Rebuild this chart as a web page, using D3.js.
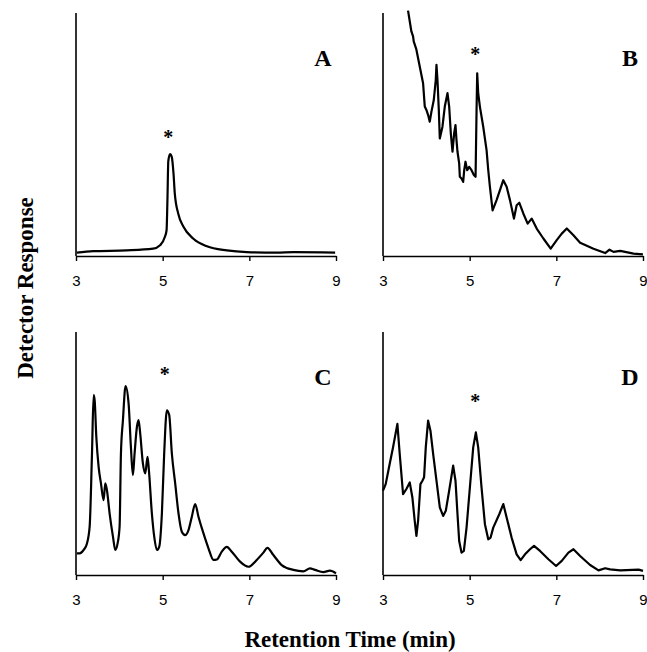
<!DOCTYPE html>
<html>
<head>
    <meta charset="utf-8">
    <style>
        body { margin: 0; background: #fff; }
    </style>
</head>
<body>
<script src="https://d3js.org/d3.v7.min.js"></script>
<script>
    // retention time (min) and detector response (relative, 0-100) for each panel
    var timeA = [3.02, 3.40, 4.17, 4.78, 4.94, 5.05, 5.09, 5.11, 5.13, 5.17, 5.21, 5.25, 5.28, 5.36, 5.48, 5.71, 6.02, 6.48, 6.94, 7.63, 8.02, 8.98];
    var respA = [1.4, 2.0, 2.3, 3.0, 4.4, 7.8, 10.6, 23, 39, 41.9, 40.8, 34, 25.7, 17.4, 12, 7.1, 4.0, 2.3, 1.6, 1.4, 1.6, 1.4];

    var timeB = [3.578, 3.655, 3.694, 3.709, 3.771, 3.848, 3.925, 3.964, 4.002, 4.041, 4.079, 4.118, 4.172, 4.218, 4.234, 4.257, 4.288, 4.311, 4.372, 4.426,
        4.488, 4.527, 4.565, 4.604, 4.642, 4.673, 4.696, 4.719, 4.758, 4.773, 4.812, 4.850, 4.874, 4.904, 4.943, 4.989, 5.043, 5.097, 5.136, 5.159,
        5.174, 5.197, 5.236, 5.313, 5.390, 5.429, 5.467, 5.529, 5.621, 5.699, 5.776, 5.853, 5.930, 6.022, 6.084, 6.146, 6.238, 6.338, 6.431, 6.547,
        6.701, 6.870, 7.009, 7.125, 7.241, 7.395, 7.549, 7.857, 8.127, 8.227, 8.320, 8.474, 8.783, 8.998];
    var respB = [101, 92.4, 90.4, 88.3, 84.9, 78, 71.1, 61.5, 60.1, 58, 55.3, 59.4, 64.2, 72.5, 78.7, 72.5, 60.1, 48.4, 53.2, 61.5,
        67, 61.5, 50.5, 42.9, 50.5, 53.9, 47.7, 42.9, 38.1, 32.6, 31.9, 30.5, 35.3, 38.8, 35.3, 36.7, 35.3, 33.3, 32.6, 60,
        75.2, 67, 61.5, 53.2, 43.6, 35.3, 28.5, 18.8, 23, 27.1, 31.2, 28.5, 23, 15.4, 20.9, 21.9, 17.5, 13.3, 15.4, 11.3,
        7.2, 3.0, 6.5, 9.2, 11.3, 8.5, 5.5, 3.0, 1.2, 2.6, 1.7, 2.1, 1.0, 0.7];

    var timeC = [3.023, 3.084, 3.177, 3.253, 3.315, 3.369, 3.407, 3.430, 3.469, 3.522, 3.576, 3.637, 3.676, 3.714, 3.776, 3.853, 3.906, 3.960, 4.006, 4.037,
        4.083, 4.144, 4.214, 4.267, 4.313, 4.352, 4.406, 4.444, 4.482, 4.544, 4.598, 4.651, 4.682, 4.751, 4.805, 4.866, 4.920, 4.982, 5.035, 5.097,
        5.151, 5.212, 5.289, 5.366, 5.442, 5.519, 5.596, 5.673, 5.750, 5.826, 5.942, 6.057, 6.172, 6.249, 6.364, 6.479, 6.594, 6.786, 6.978, 7.171,
        7.324, 7.417, 7.555, 7.747, 8.015, 8.246, 8.399, 8.515, 8.707, 8.860, 9.0];
    var respC = [8.9, 8.9, 10.3, 13, 19.9, 50, 74, 72, 56.8, 44.5, 37.7, 30.8, 37.7, 34.9, 25.3, 15.8, 10.3, 13, 19.9, 50,
        63.7, 77.7, 70.5, 52.7, 41.1, 50, 61, 63.7, 58.2, 45.9, 41.8, 48.6, 43.2, 25.3, 15.8, 10.3, 11.6, 25.3, 50, 67.8,
        65.8, 50, 37.7, 25.3, 17.8, 16.4, 18.5, 24, 29.2, 24, 17.1, 11, 6.2, 6.4, 9.6, 11.6, 9.6, 5.5, 3.4, 6.2,
        9.2, 11.2, 8.2, 4.1, 2.1, 1.5, 2.7, 2.1, 1.2, 1.8, 0.7];

    var timeD = [3.0, 3.062, 3.154, 3.231, 3.332, 3.386, 3.463, 3.540, 3.617, 3.678, 3.732, 3.771, 3.810, 3.864, 3.910, 3.948, 3.987, 4.041, 4.095, 4.157,
        4.234, 4.311, 4.388, 4.449, 4.527, 4.619, 4.673, 4.719, 4.758, 4.812, 4.866, 4.928, 5.005, 5.082, 5.143, 5.197, 5.274, 5.352, 5.429, 5.483,
        5.544, 5.683, 5.776, 5.853, 5.968, 6.084, 6.177, 6.277, 6.392, 6.485, 6.624, 6.817, 6.994, 7.125, 7.279, 7.395, 7.549, 7.780, 7.973, 8.127,
        8.242, 8.474, 8.898, 9.0];
    var respD = [34.7, 37.4, 45.7, 52.5, 62.2, 49.8, 33.3, 35.4, 38.1, 31.9, 22.3, 16.1, 22.3, 37.4, 38.8, 40.2, 52.5, 63.5, 59.4, 49.8,
        38.8, 27.8, 24.3, 26.4, 34.7, 45, 38.8, 25, 14, 9.2, 9.9, 19.5, 36, 52.5, 58.7, 52.5, 36, 20.9, 14.7, 15.4,
        19.5, 25, 29.2, 23.7, 15.4, 8.5, 6.1, 8.5, 10.6, 12, 9.9, 6.5, 3.7, 5.8, 9.2, 10.6, 7.8, 4.1, 1.9, 2.8,
        2.3, 1.9, 2.2, 1.7];

    var panelLabels = ['A', 'B', 'C', 'D'];
    var peakTime = [5.13, 5.13, 5.05, 5.13];   // the * marker
    var peakMark = [50, 84, 83.5, 72.6];
    var xTicks = [3, 5, 7, 9];

    var panels = [
        { time: timeA, resp: respA, left: 76,  top: 13,  curve: d3.curveMonotoneX },
        { time: timeB, resp: respB, left: 383, top: 13,  curve: d3.curveLinear },
        { time: timeC, resp: respC, left: 76,  top: 332, curve: d3.curveMonotoneX },
        { time: timeD, resp: respD, left: 383, top: 332, curve: d3.curveLinear }
    ];

    var pw = 260, ph = 243;

    var svg = d3.select('body').append('svg')
        .attr('width', 647)
        .attr('height', 652);

    panels.forEach(function (p, i) {
        var g = svg.append('g')
            .attr('transform', 'translate(' + p.left + ',' + p.top + ')');

        var x = d3.scaleLinear().domain([3, 9]).range([0, pw]);
        var y = d3.scaleLinear().domain([0, 100]).range([ph, 0]);

        var pts = p.time.map(function (t, j) { return [t, p.resp[j]]; });

        var line = d3.line()
            .x(function (d) { return x(d[0]); })
            .y(function (d) { return y(d[1]); })
            .curve(p.curve);

        g.append('path')
            .datum(pts)
            .attr('fill', 'none')
            .attr('stroke', '#000')
            .attr('stroke-width', 2.2)
            .attr('stroke-linejoin', 'round')
            .attr('d', line);

        var xAxis = g.append('g')
            .attr('transform', 'translate(0,' + ph + ')')
            .call(d3.axisBottom(x).tickValues(xTicks).tickFormat(d3.format('d'))
                .tickSize(5).tickSizeOuter(0).tickPadding(14));
        xAxis.select('.domain').attr('stroke-width', 1.6);
        xAxis.selectAll('.tick line').attr('stroke-width', 1.4);
        xAxis.selectAll('text')
            .attr('font-family', 'Liberation Sans, Arial, sans-serif')
            .attr('font-size', 15)
            .attr('fill', '#000');

        g.append('line')
            .attr('x1', 0).attr('x2', 0)
            .attr('y1', 0).attr('y2', ph)
            .attr('stroke', '#000')
            .attr('stroke-width', 1.6);

        g.append('text')
            .attr('x', pw - 13)
            .attr('y', 53)
            .attr('text-anchor', 'middle')
            .attr('font-family', 'Liberation Serif, Times New Roman, serif')
            .attr('font-weight', 'bold')
            .attr('font-size', 24)
            .text(panelLabels[i]);

        g.append('text')
            .attr('x', x(peakTime[i]))
            .attr('y', y(peakMark[i]) + 9)
            .attr('text-anchor', 'middle')
            .attr('font-family', 'Liberation Serif, Times New Roman, serif')
            .attr('font-weight', 'bold')
            .attr('font-size', 20)
            .text('*');
    });

    svg.append('text')
        .attr('transform', 'translate(33,288) rotate(-90)')
        .attr('text-anchor', 'middle')
        .attr('font-family', 'Liberation Serif, Times New Roman, serif')
        .attr('font-weight', 'bold')
        .attr('font-size', 23)
        .text('Detector Response');

    svg.append('text')
        .attr('x', 350)
        .attr('y', 647)
        .attr('text-anchor', 'middle')
        .attr('font-family', 'Liberation Serif, Times New Roman, serif')
        .attr('font-weight', 'bold')
        .attr('font-size', 23)
        .text('Retention Time (min)');
</script>
</body>
</html>
